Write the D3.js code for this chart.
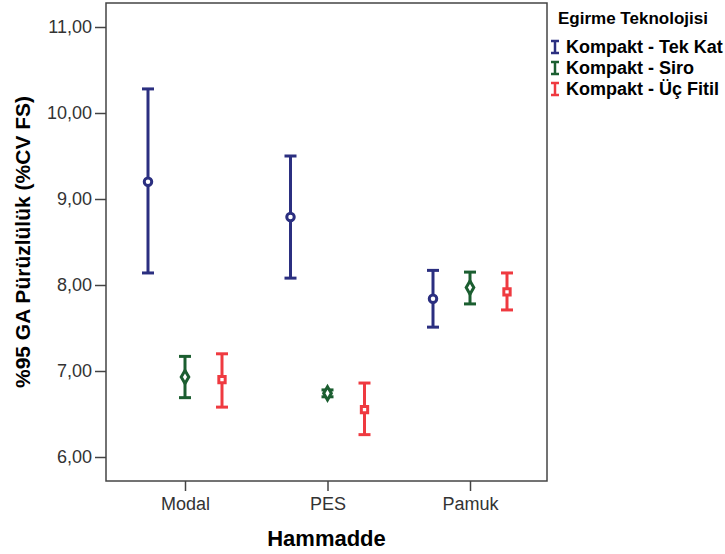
<!DOCTYPE html>
<html>
<head>
<meta charset="utf-8">
<script src="https://cdn.jsdelivr.net/npm/d3@7"></script>
<style>
body{margin:0;background:#fff;}
text{font-family:"Liberation Sans",Arial,sans-serif;}
</style>
</head>
<body>
<svg id="chart" width="725" height="554"></svg>
<script>
var categories = ['Modal', 'PES', 'Pamuk']
var seriesNames = ['Kompakt - Tek Kat', 'Kompakt - Siro', 'Kompakt - Üç Fitil']
var meanValues = [[9.20, 8.79, 7.84], [6.93, 6.74, 7.97], [6.90, 6.55, 7.92]]
var upperValues = [[10.28, 9.50, 8.17], [7.17, 6.78, 8.15], [7.20, 6.86, 8.14]]
var lowerValues = [[8.14, 8.08, 7.51], [6.69, 6.70, 7.78], [6.58, 6.26, 7.71]]
var yTicks = [6, 7, 8, 9, 10, 11]
var colors = ['#2b2f80', '#1b5e30', '#ef3a40']
var shapes = ['circle', 'diamond', 'square']

function draw(){
	var svg = d3.select('svg#chart')
	var left = 106, right = 547, top = 3, bottom = 481

	var y = d3.scaleLinear()
		.domain([6, 11])
		.range([457, 27])
	var x = d3.scalePoint()
		.domain(categories)
		.range([185, 470])
	var off = d3.scalePoint()
		.domain(seriesNames)
		.range([-37, 37])

	// frame
	svg.append('rect')
		.attr('x', left).attr('y', top)
		.attr('width', right - left).attr('height', bottom - top)
		.style('fill', 'none')
		.style('stroke', '#444')
		.style('stroke-width', 1.5)

	// y axis
	var yAxis = svg.append('g')
		.attr('transform', 'translate(' + left + ',0)')
		.call(d3.axisLeft(y).tickValues(yTicks).tickSize(11).tickPadding(3)
			.tickFormat(function(d){return d3.format('.2f')(d).replace('.', ',')}))
	yAxis.select('.domain').remove()
	yAxis.selectAll('line').style('stroke', '#444').style('stroke-width', 1.5)
	yAxis.selectAll('text').style('font-size', '18px').style('fill', '#333')
		.style('font-family', '"Liberation Sans",Arial,sans-serif')

	// x axis
	var xAxis = svg.append('g')
		.attr('transform', 'translate(0,' + bottom + ')')
		.call(d3.axisBottom(x).tickSize(10).tickPadding(6))
	xAxis.select('.domain').remove()
	xAxis.selectAll('line').style('stroke', '#444').style('stroke-width', 1.5)
	xAxis.selectAll('text').style('font-size', '18px').style('fill', '#333')
		.style('font-family', '"Liberation Sans",Arial,sans-serif')

	// axis titles
	svg.append('text')
		.attr('x', (left + right) / 2).attr('y', 546)
		.attr('text-anchor', 'middle')
		.style('font-size', '22px').style('font-weight', 'bold')
		.text('Hammadde')
	svg.append('text')
		.attr('transform', 'translate(30,242) rotate(-90)')
		.attr('text-anchor', 'middle')
		.style('font-size', '21px').style('font-weight', 'bold')
		.text('%95 GA Pürüzlülük (%CV FS)')

	var symbolTypes = {circle: d3.symbolCircle, diamond: d3.symbolDiamond, square: d3.symbolSquare}
	var capW = 6

	seriesNames.forEach(function(s, si){
		var pts = categories.map(function(c, ci){
			return {cat: c, mean: meanValues[si][ci], hi: upperValues[si][ci], lo: lowerValues[si][ci]}
		})
		var g = svg.append('g').style('stroke', colors[si])
		var px = function(d){return x(d.cat) + off(s)}
		g.selectAll('line.bar').data(pts).enter().append('line')
			.attr('x1', px).attr('x2', px)
			.attr('y1', function(d){return y(d.hi)}).attr('y2', function(d){return y(d.lo)})
			.style('stroke-width', 3)
		g.selectAll('line.cap-hi').data(pts).enter().append('line')
			.attr('x1', function(d){return px(d) - capW}).attr('x2', function(d){return px(d) + capW})
			.attr('y1', function(d){return y(d.hi)}).attr('y2', function(d){return y(d.hi)})
			.style('stroke-width', 3)
		g.selectAll('line.cap-lo').data(pts).enter().append('line')
			.attr('x1', function(d){return px(d) - capW}).attr('x2', function(d){return px(d) + capW})
			.attr('y1', function(d){return y(d.lo)}).attr('y2', function(d){return y(d.lo)})
			.style('stroke-width', 3)
		var size = shapes[si] === 'diamond' ? 50 : shapes[si] === 'square' ? 40 : 44
		g.selectAll('path.marker').data(pts).enter().append('path')
			.attr('transform', function(d){return 'translate(' + px(d) + ',' + y(d.mean) + ')'})
			.attr('d', d3.symbol().type(symbolTypes[shapes[si]]).size(size))
			.style('fill', '#fff')
			.style('stroke-width', 3)
	})

	// legend
	var lg = svg.append('g')
	lg.append('text')
		.attr('x', 558).attr('y', 24)
		.style('font-size', '17px').style('font-weight', 'bold')
		.text('Egirme Teknolojisi')
	seriesNames.forEach(function(s, si){
		var yy = 47 + si * 21
		var ig = lg.append('g').style('stroke', colors[si]).style('stroke-width', 2.5)
		ig.append('line').attr('x1', 555).attr('x2', 555).attr('y1', yy - 6).attr('y2', yy + 6)
		ig.append('line').attr('x1', 551).attr('x2', 559).attr('y1', yy - 6).attr('y2', yy - 6)
		ig.append('line').attr('x1', 551).attr('x2', 559).attr('y1', yy + 6).attr('y2', yy + 6)
		lg.append('text')
			.attr('x', 566).attr('y', yy + 6)
			.style('font-size', '18px').style('font-weight', 'bold')
			.text(s)
	})
}
draw()
</script>
</body>
</html>
